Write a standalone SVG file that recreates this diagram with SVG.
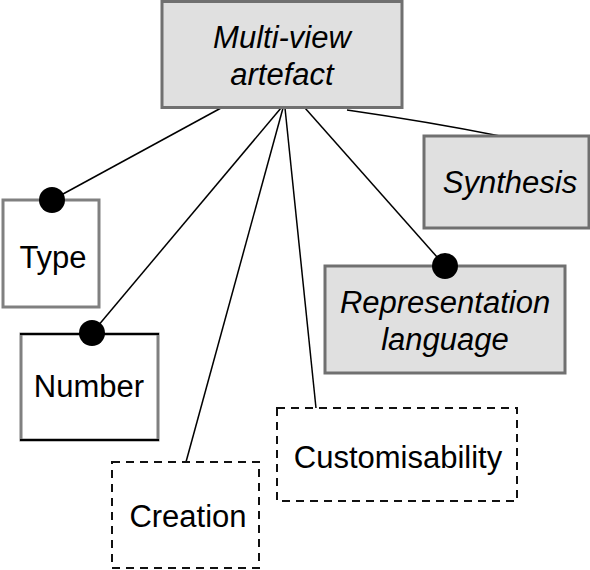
<svg xmlns="http://www.w3.org/2000/svg" width="590" height="570" viewBox="0 0 590 570">
<style>
.g{fill:#e0e0e0;stroke:#707070;stroke-width:3}
.w{fill:#fff;stroke:#808080;stroke-width:3}
.d{fill:#fff;stroke:#111;stroke-width:2;stroke-dasharray:8 6}
.t{font-family:"Liberation Sans",Arial,sans-serif;font-size:31px;fill:#000;text-anchor:middle}
.i{font-style:italic}
.c{stroke:#000;stroke-width:1.5;fill:none}
.dot{fill:#000}
</style>
<rect width="590" height="570" fill="#fff"/>
<g id="connectors">
<line class="c" x1="221" y1="108" x2="52" y2="200"/>
<line class="c" x1="281" y1="108" x2="92" y2="333"/>
<line class="c" x1="283" y1="108" x2="186" y2="462"/>
<line class="c" x1="285" y1="108" x2="316" y2="408"/>
<line class="c" x1="305" y1="108" x2="445" y2="266"/>
<path class="c" d="M347 110 Q430 122 500 136" stroke-width="2"/>
</g>
<g id="multi-view-artefact">
<rect class="g" x="162" y="1.5" width="240" height="106"/>
<text class="t i" x="282" y="48">Multi-view</text>
<text class="t i" x="282" y="85">artefact</text>
</g>
<g id="type">
<rect class="w" x="3" y="200" width="96" height="107"/>
<text class="t" x="53" y="268">Type</text>
<circle class="dot" cx="52" cy="200" r="13"/>
</g>
<g id="number">
<rect class="w" x="21" y="334" width="137" height="106"/>
<line x1="20" y1="334" x2="159" y2="334" stroke="#000" stroke-width="2"/>
<line x1="20" y1="440" x2="159" y2="440" stroke="#000" stroke-width="2"/>
<text class="t" x="89" y="397">Number</text>
<circle class="dot" cx="92" cy="333" r="13"/>
</g>
<g id="creation">
<rect class="d" x="112" y="462" width="147" height="106"/>
<text class="t" x="188" y="527">Creation</text>
</g>
<g id="customisability">
<rect class="d" x="277" y="408" width="240" height="93"/>
<text class="t" x="398" y="468">Customisability</text>
</g>
<g id="synthesis">
<rect class="g" x="424" y="136" width="165" height="92"/>
<text class="t i" x="510" y="193">Synthesis</text>
</g>
<g id="representation-language">
<rect class="g" x="325" y="266" width="240" height="107"/>
<text class="t i" x="445" y="313">Representation</text>
<text class="t i" x="445" y="350">language</text>
<circle class="dot" cx="445" cy="266" r="13"/>
</g>
</svg>
